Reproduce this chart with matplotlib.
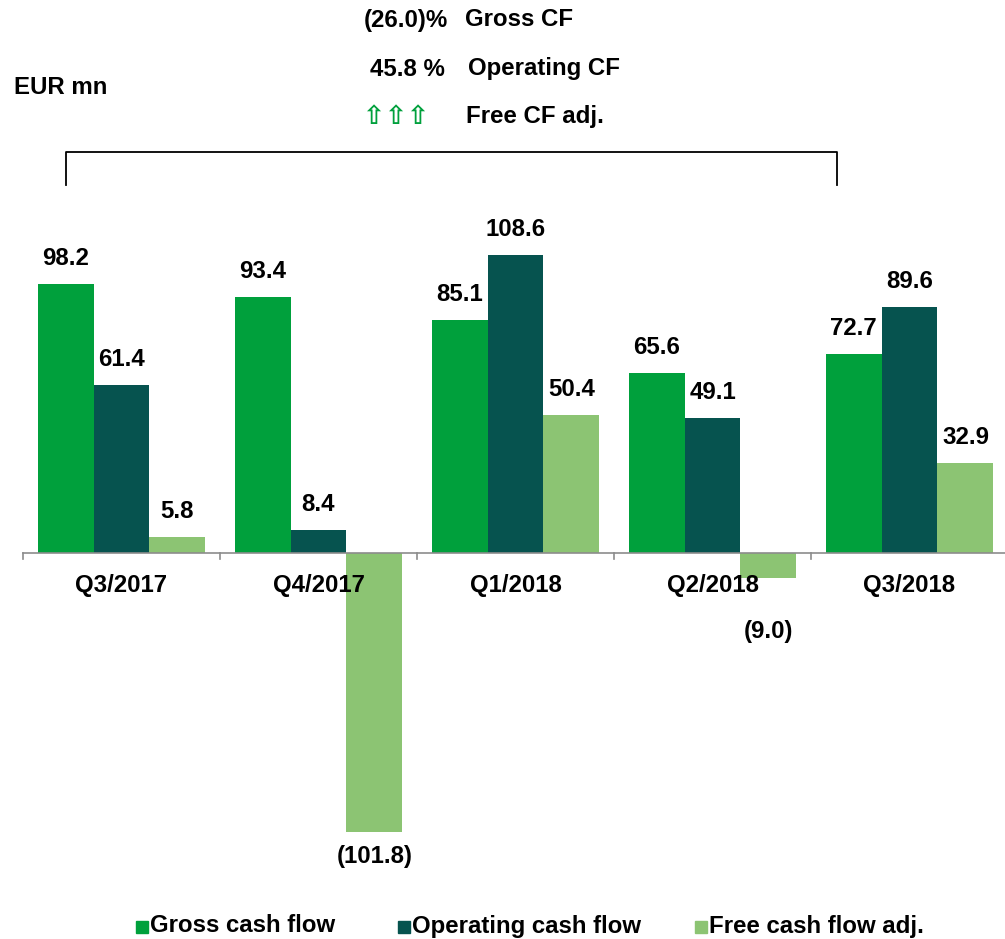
import matplotlib
matplotlib.use("Agg")
import matplotlib.pyplot as plt
from matplotlib.patches import Rectangle
from matplotlib.lines import Line2D
import numpy as np

plt.rcParams["font.family"] = ["Liberation Sans", "DejaVu Sans"]
plt.rcParams["font.weight"] = "bold"

quarters = ["Q3/2017", "Q4/2017", "Q1/2018", "Q2/2018", "Q3/2018"]
gross_cf = [98.2, 93.4, 85.1, 65.6, 72.7]
operating_cf = [61.4, 8.4, 108.6, 49.1, 89.6]
free_cf_adj = [5.8, -101.8, 50.4, -9.0, 32.9]

series_names = ["Gross cash flow", "Operating cash flow", "Free cash flow adj."]
colors = ["#00A03C", "#06534F", "#8CC473"]

change_values = ["(26.0)%", "45.8 %"]
change_labels = ["Gross CF", "Operating CF", "Free CF adj."]

FS = 17.3
W, H = 1005, 939
fig = plt.figure(figsize=(W / 100, H / 100), dpi=100)


def fx(px):
    return px / W


def fy(py):
    return 1 - py / H


# axes placed so the baseline sits near the bottom third of the canvas
ylo, yhi = -115, 125
scale = 2.74
base_px = 553
top_px = base_px - yhi * scale
bot_px = base_px - ylo * scale
ax = fig.add_axes([fx(23), fy(bot_px), fx(985), (bot_px - top_px) / H])
ax.set_xlim(-0.5, 4.5)
ax.set_ylim(ylo, yhi)
ax.axis("off")

x = np.arange(len(quarters))
bw = 0.284
series = [gross_cf, operating_cf, free_cf_adj]
for i, (vals, col) in enumerate(zip(series, colors)):
    xs = x + (i - 1) * bw
    ax.bar(xs, vals, width=bw, color=col, edgecolor="none", zorder=2)
    for xi, v in zip(xs, vals):
        if v >= 0:
            ax.annotate(f"{v:.1f}", (xi, v), xytext=(0, 18.5), textcoords="offset points",
                        ha="center", va="center", fontsize=FS, fontweight="bold")
        else:
            off = -18 if v < -50 else -39
            ax.annotate(f"({abs(v):.1f})", (xi, v), xytext=(0, off), textcoords="offset points",
                        ha="center", va="center", fontsize=FS, fontweight="bold")

# baseline with small category separators
ax.plot([-0.5, 4.5], [0, 0], color="#8C8C8C", lw=1.2, zorder=3, clip_on=False)
for b in np.arange(-0.5, 4.6, 1.0):
    ax.plot([b, b], [0, -2.2], color="#8C8C8C", lw=1.2, zorder=3, clip_on=False)
for xi, q in zip(x, quarters):
    ax.text(xi, -11.8, q, ha="center", va="center", fontsize=FS, fontweight="bold", zorder=4)

# header with period-over-period changes
fig.text(fx(14), fy(88), "EUR mn", ha="left", va="center", fontsize=FS, fontweight="bold")
fig.text(fx(448), fy(20), change_values[0], ha="right", va="center", fontsize=FS, fontweight="bold")
fig.text(fx(445), fy(69), change_values[1], ha="right", va="center", fontsize=FS, fontweight="bold")
for ax_px in (373, 395, 417):
    fig.text(fx(ax_px), fy(117), "\u21e7", ha="center", va="center", fontsize=19,
             color="#00A03C", family="DejaVu Sans", fontweight="bold")
fig.text(fx(465), fy(20), change_labels[0], ha="left", va="center", fontsize=FS, fontweight="bold")
fig.text(fx(468), fy(69), change_labels[1], ha="left", va="center", fontsize=FS, fontweight="bold")
fig.text(fx(466), fy(117), change_labels[2], ha="left", va="center", fontsize=FS, fontweight="bold")

# bracket spanning the compared quarters
fig.add_artist(Line2D([fx(66), fx(66), fx(837), fx(837)], [fy(185), fy(152), fy(152), fy(185)],
                      color="black", lw=1.3, transform=fig.transFigure))

# legend
leg_x = [136, 398, 695]
for lx, name, col in zip(leg_x, series_names, colors):
    fig.add_artist(Rectangle((fx(lx), fy(933)), fx(12), 12 / H, color=col,
                             transform=fig.transFigure))
    fig.text(fx(lx + 14), fy(926), name, ha="left", va="center", fontsize=FS, fontweight="bold")

fig.savefig("out.png", dpi=100)
